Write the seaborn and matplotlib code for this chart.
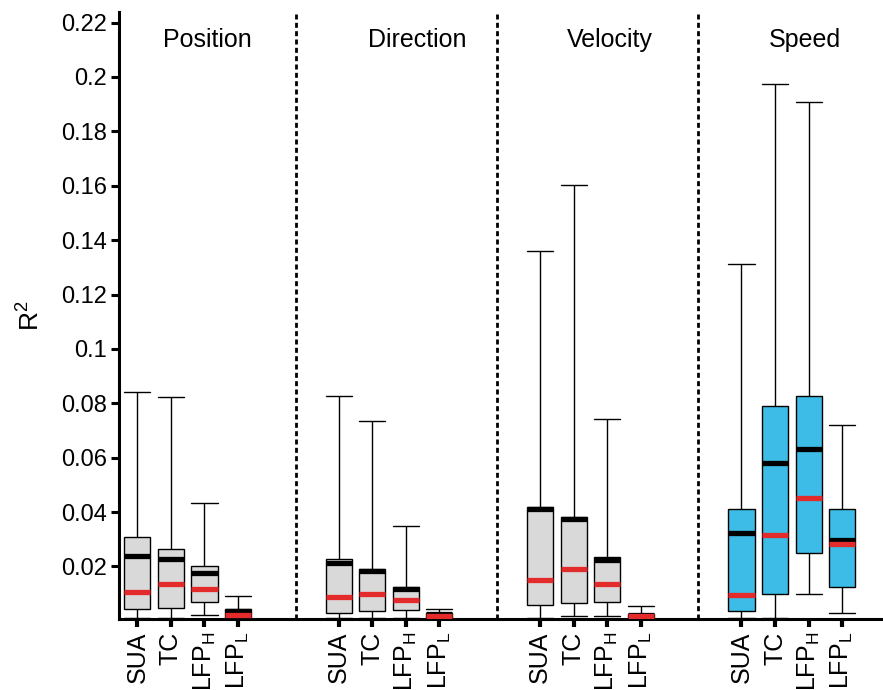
import numpy as np
import pandas as pd
import matplotlib
matplotlib.use("Agg")
import matplotlib.pyplot as plt
import seaborn as sns

# ---- data (per group: SUA, TC, LFP_H, LFP_L) ----
groups = ["Position", "Direction", "Velocity", "Speed"]
signals = ["SUA", "TC", r"LFP$_\mathrm{H}$", r"LFP$_\mathrm{L}$"]

whisker_low = [0.0011, 0.0011, 0.0020, 0.0008,
               0.0010, 0.0010, 0.0012, 0.0006,
               0.0010, 0.0016, 0.0016, 0.0006,
               0.0010, 0.0012, 0.0100, 0.0028]
q1 = [0.0044, 0.0048, 0.0070, 0.0011,
      0.0030, 0.0036, 0.0040, 0.0009,
      0.0058, 0.0067, 0.0070, 0.0009,
      0.0036, 0.0098, 0.0249, 0.0124]
median = [0.0105, 0.0134, 0.0118, 0.0023,
          0.0087, 0.0097, 0.0076, 0.0018,
          0.0152, 0.0192, 0.0136, 0.0018,
          0.0094, 0.0317, 0.0452, 0.0282]
q3 = [0.0310, 0.0264, 0.0203, 0.0043,
      0.0229, 0.0191, 0.0124, 0.0028,
      0.0417, 0.0383, 0.0233, 0.0025,
      0.0412, 0.0790, 0.0826, 0.0413]
whisker_high = [0.0842, 0.0822, 0.0434, 0.0092,
                0.0828, 0.0734, 0.0347, 0.0044,
                0.1361, 0.1603, 0.0741, 0.0053,
                0.1313, 0.1974, 0.1907, 0.0720]
mean = [0.0240, 0.0228, 0.0175, 0.0037,
        0.0213, 0.0185, 0.0117, 0.0024,
        0.0410, 0.0376, 0.0224, 0.0022,
        0.0322, 0.0580, 0.0631, 0.0299]

# ---- build long table ----
rows = []
positions = []
labels = []
for g, gname in enumerate(groups):
    for i, s in enumerate(signals):
        k = g * 4 + i
        pos = g * 6 + i
        positions.append(pos)
        labels.append(s)
        fill = "blue" if gname == "Speed" else "gray"
        for v in (whisker_low[k], q1[k], median[k], q3[k], whisker_high[k]):
            rows.append({"pos": pos, "val": v, "fill": fill})
df = pd.DataFrame(rows)

sns.set_style("white")
plt.rcParams["font.family"] = ["Liberation Sans", "DejaVu Sans"]
plt.rcParams["mathtext.fontset"] = "custom"
plt.rcParams["mathtext.rm"] = "Liberation Sans"
for key in ("text.color", "axes.labelcolor", "xtick.color", "ytick.color"):
    plt.rcParams[key] = "black"

fig, ax = plt.subplots(figsize=(8.83, 6.90), dpi=100)
fig.subplots_adjust(left=0.135, right=0.999, bottom=0.103, top=0.983)

box_w = 0.78
sns.boxplot(data=df, x="pos", y="val", hue="fill",
            palette={"gray": "#d9d9d9", "blue": "#3cbce6"}, saturation=1,
            native_scale=True, dodge=False, whis=(0, 100), width=box_w,
            linecolor="black", linewidth=1.0, legend=False,
            medianprops=dict(color="#e32b2b", linewidth=3.8, zorder=4),
            capwidths=box_w, ax=ax)

# means (black thick lines)
pos_arr = np.array(positions, dtype=float)
ax.hlines(mean, pos_arr - box_w / 2, pos_arr + box_w / 2,
          colors="black", linewidth=3.8, zorder=3.5)

# dividers
for xv in (4.73, 10.72, 16.70):
    ax.axvline(xv, color="black", linewidth=2.0, linestyle=(0, (1.8, 1.2)), zorder=1)

# group titles
title_x = [2.08, 8.34, 14.07, 19.9]
for tx, name in zip(title_x, groups):
    ax.text(tx, 0.2135, name, ha="center", va="center", fontsize=18)

ax.set_xlim(-0.54, 22.19)
ax.set_ylim(0.0007, 0.224)
yt = np.arange(0.02, 0.2201, 0.02)
ax.set_yticks(yt)
ax.set_yticklabels([f"{v:g}" for v in np.round(yt, 2)], fontsize=17)
ax.set_xticks(positions)
ax.set_xticklabels(labels, rotation=90, fontsize=18)
ax.set_xlabel("")
ax.set_ylabel("R$^2$", fontsize=19, labelpad=12)

for side in ("top", "right"):
    ax.spines[side].set_visible(False)
for side in ("left", "bottom"):
    ax.spines[side].set_linewidth(2.2)
    ax.spines[side].set_color("black")
ax.tick_params(axis="y", direction="out", length=6, width=2.2, left=True, pad=3)
ax.tick_params(axis="x", direction="out", length=6, width=3.0, bottom=True, pad=3)

fig.savefig("out.png", dpi=100)
